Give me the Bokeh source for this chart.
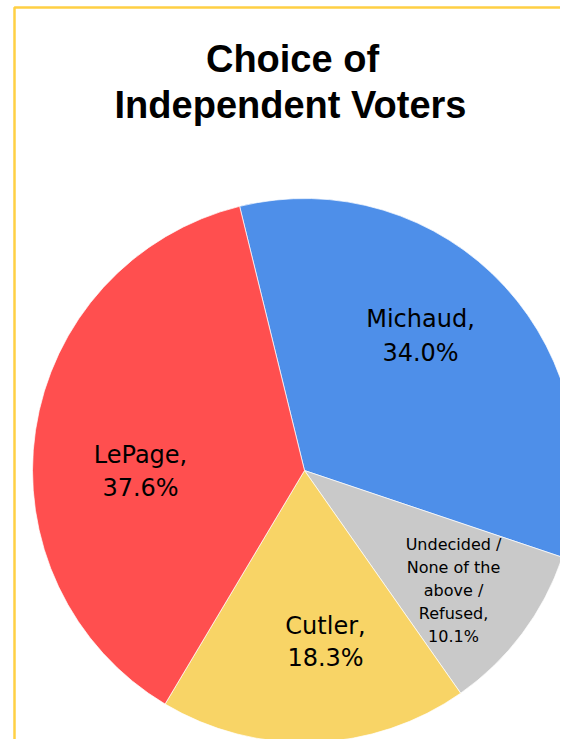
import math
from bokeh.plotting import figure
from bokeh.models import Range1d, ColumnDataSource
from bokeh.core.properties import value
from bokeh.embed import file_html
from bokeh.resources import INLINE

# ---- data ----
title_lines = ["Choice of", "Independent Voters"]
candidates = ["Michaud", "Undecided / None of the above / Refused", "Cutler", "LePage"]
shares = [34.0, 10.1, 18.3, 37.6]
colors = ["#4E8FE9", "#C9C9C9", "#F8D466", "#FF4F4F"]
label_lines = [
    ["Michaud,", "34.0%"],
    ["Undecided /", "None of the", "above /", "Refused,", "10.1%"],
    ["Cutler,", "18.3%"],
    ["LePage,", "37.6%"],
]

# ---- layout (pixel coords; y measured from top of figure) ----
W, H = 560, 739
cx, cy, R = 304, 470, 272
start_deg = 103.8  # math angle of the first slice's start (clockwise drawing)
label_pos = [(420, 335.5), (453, 590), (325, 641), (140, 471)]
label_size = [24, 16, 24, 24]
label_gap = [34, 23.1, 32, 32.5]


def Y(yi):
    return H - yi


p = figure(width=W, height=H, x_range=Range1d(0, W), y_range=Range1d(0, H),
           output_backend="svg", toolbar_location=None, min_border=0)
p.axis.visible = False
p.grid.visible = False
p.outline_line_color = None
p.background_fill_color = "white"
p.border_fill_color = "white"

# border box (yellow frame, only top & left visible)
p.line(x=[14, 14, W + 10], y=[-10, Y(7), Y(7)], line_color="#FFD044", line_width=2.5)

# wedges
total = sum(shares)
starts, ends = [], []
a = math.radians(start_deg)
for s in shares:
    b = a - 2 * math.pi * s / total
    starts.append(a)
    ends.append(b)
    a = b
src = ColumnDataSource(dict(start=starts, end=ends, color=colors))
p.wedge(x=cx, y=Y(cy), radius=R, start_angle="start", end_angle="end",
        direction="clock", fill_color="color", line_color="white", line_width=0.7,
        source=src)

# title
title_pos = [(292, 58.5), (290, 104.5)]
for t, (tx, ty) in zip(title_lines, title_pos):
    p.text(x=[tx], y=[Y(ty)], text=[t], text_align="center",
           text_baseline="middle", text_font=value("Liberation Sans"),
           text_font_style="bold", text_font_size="38px", text_color="black")

# labels
for lines, (lx, ly), fs, gap in zip(label_lines, label_pos, label_size, label_gap):
    n = len(lines)
    for j, t in enumerate(lines):
        yy = ly + (j - (n - 1) / 2) * gap
        p.text(x=[lx], y=[Y(yy)], text=[t], text_align="center",
               text_baseline="middle", text_font=value("DejaVu Sans"),
               text_font_size=f"{fs}px", text_color="black")

open("out.html", "w").write(file_html(p, INLINE))
